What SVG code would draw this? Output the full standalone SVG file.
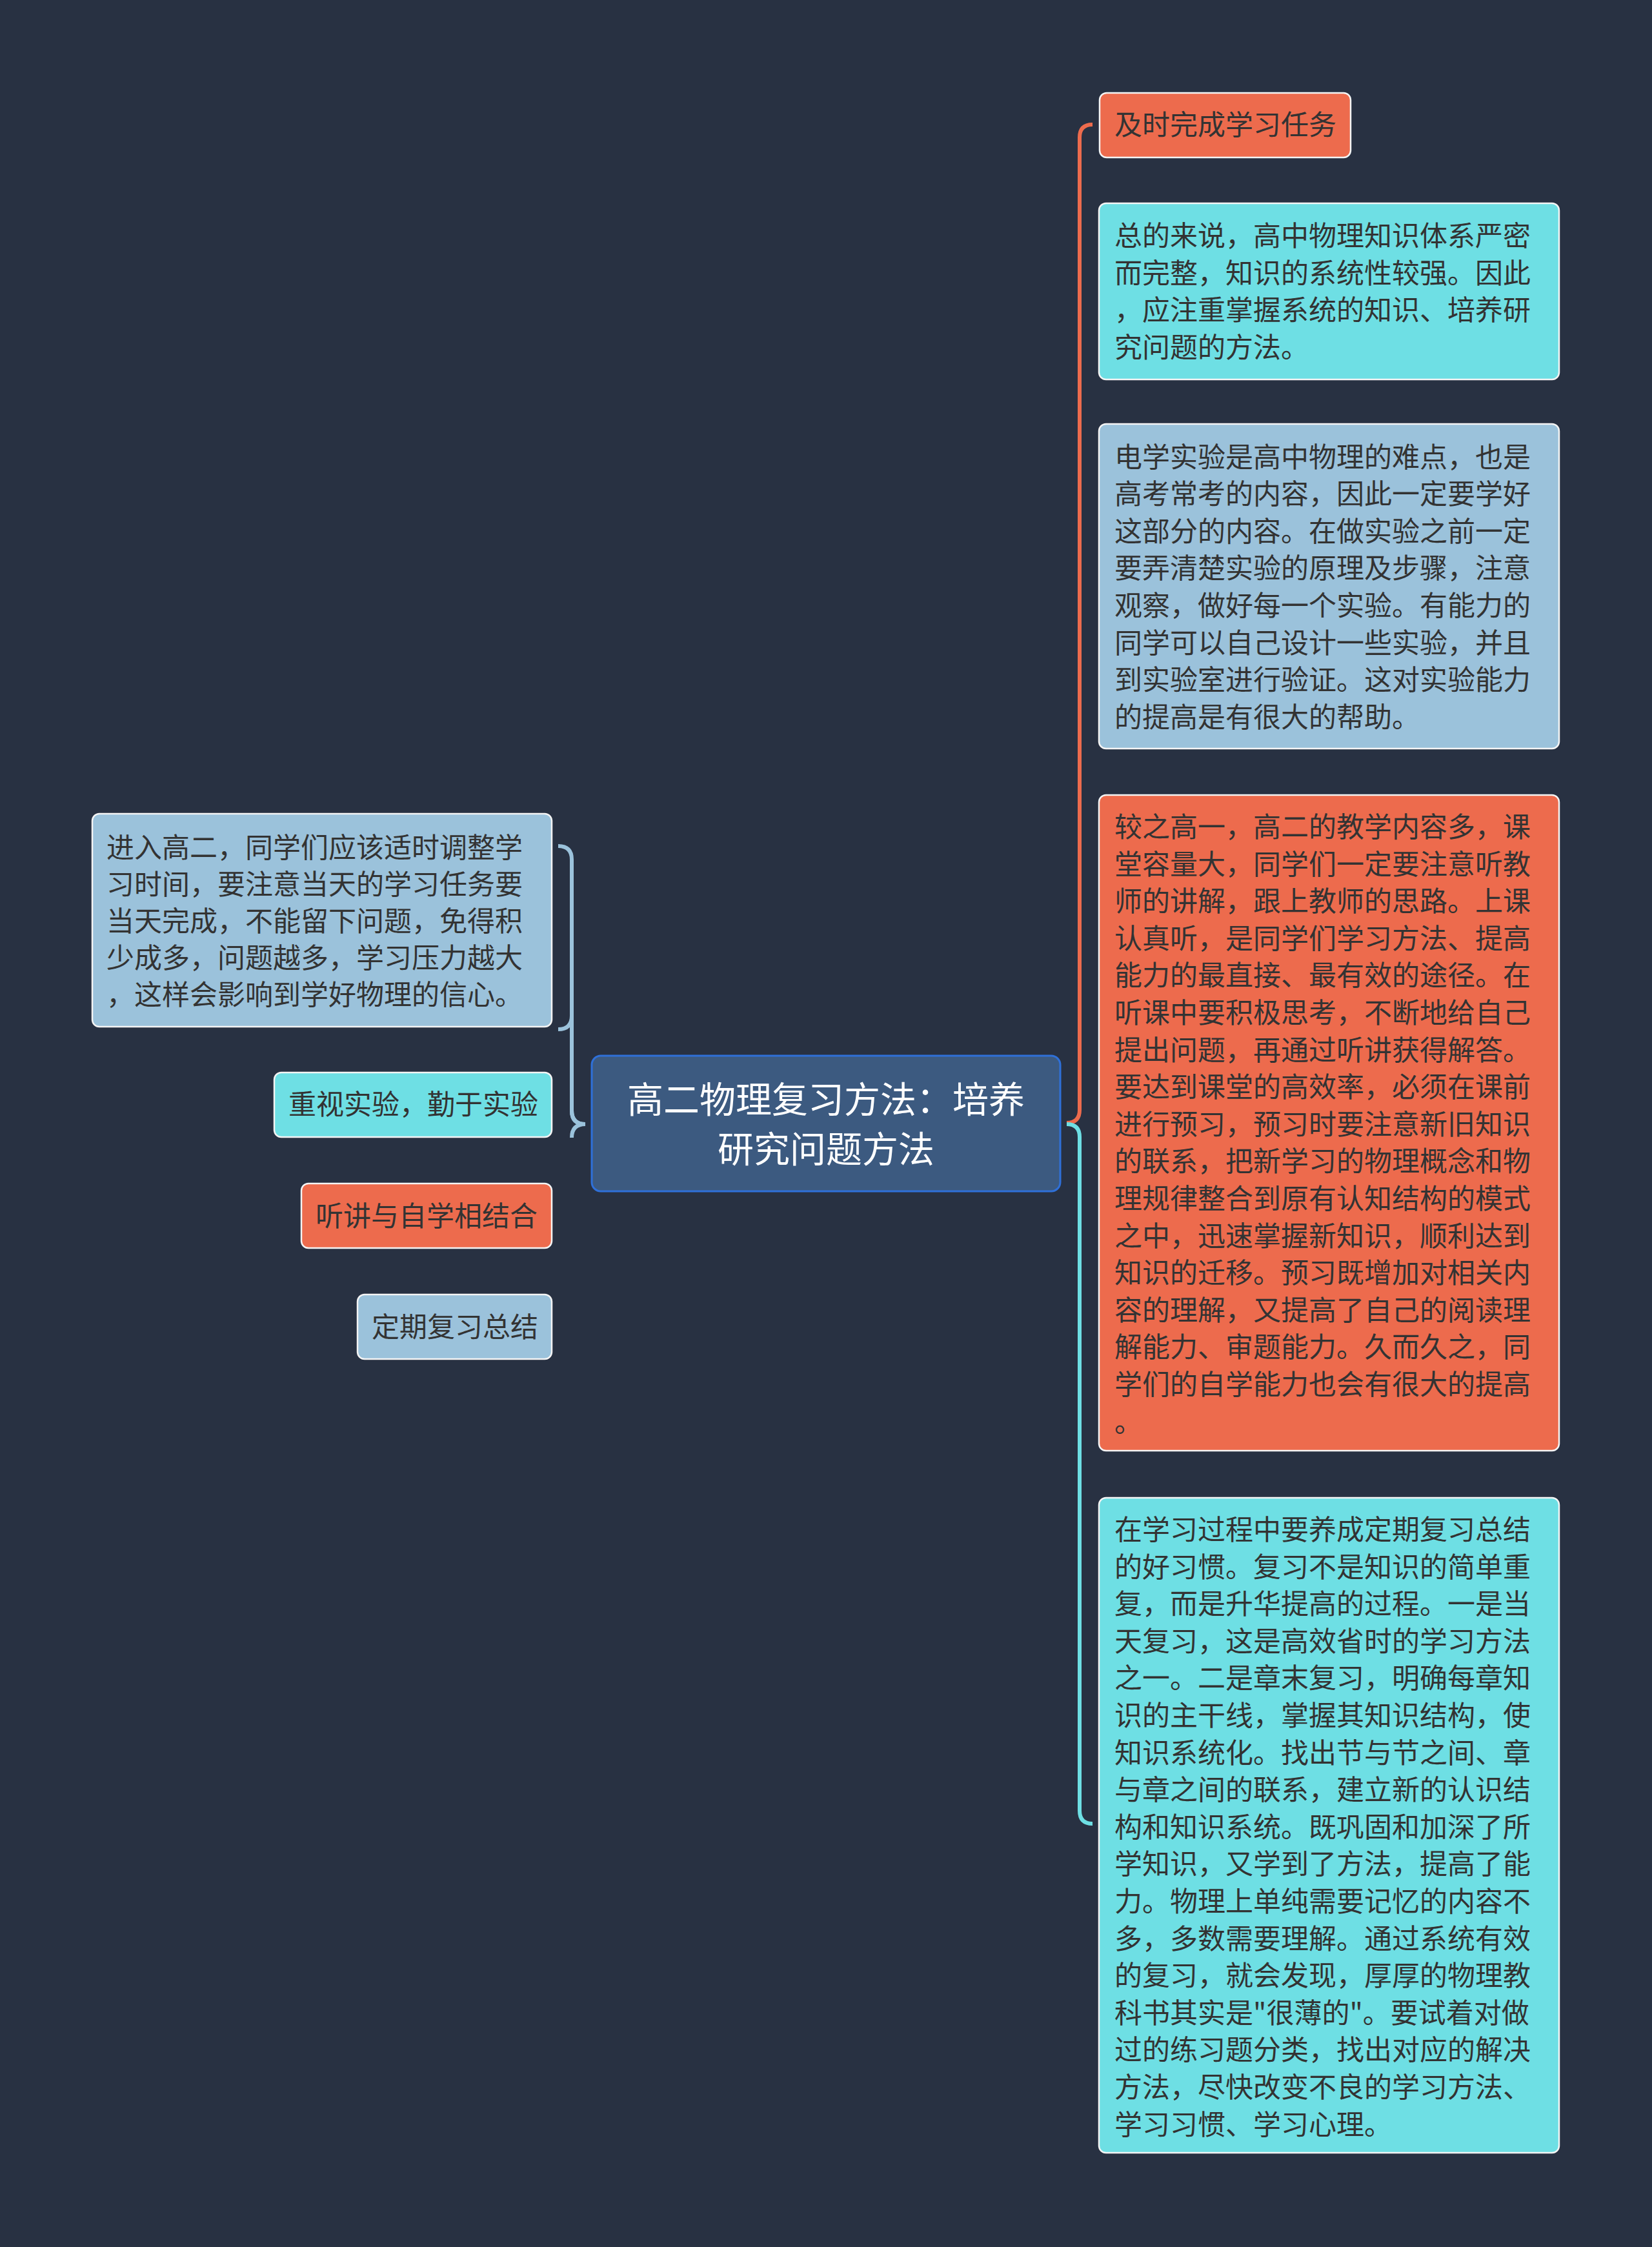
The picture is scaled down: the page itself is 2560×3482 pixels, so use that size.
<svg xmlns="http://www.w3.org/2000/svg" width="2560" height="3482" viewBox="0 0 2560 3482">
<style>
.bg{fill:#283142}
.box{stroke:#f4f4f4;stroke-width:2.5}
.or{fill:#ed6b4d}
.cy{fill:#6edfe4}
.lb{fill:#9bc2db}
.t{font-family:"Noto Sans CJK SC","Noto Sans",sans-serif;font-size:43px;fill:#333333}
.ct{font-family:"Noto Sans CJK SC","Noto Sans",sans-serif;font-size:56px;fill:#ffffff;text-anchor:middle}
.ln{fill:none;stroke-width:6;stroke-linecap:butt}
</style>
<rect class="bg" x="0" y="0" width="2560" height="3482"/>
<g id="connectors">
<path class="ln" stroke="#ed6b4d" d="M1653 1740 Q1673 1740 1673 1720 L1673 213 Q1673 193 1693 193"/>
<path class="ln" stroke="#6edfe4" d="M1653 1742 Q1673 1742 1673 1762 L1673 2806 Q1673 2826 1693 2826"/>
<path class="ln" stroke="#9bc2db" d="M907 1742 Q886 1742 886 1721 L886 1332 Q886 1311 865 1311"/>
<path class="ln" stroke="#9bc2db" d="M907 1742 Q886 1742 886 1721 L886 1574 Q886 1595 865 1595"/>
<path class="ln" stroke="#9bc2db" d="M907 1742 Q886 1742 886 1763"/>
</g>
<g id="root">
<rect x="917" y="1636" width="726" height="210" rx="14" fill="#3c5a80" stroke="#2f70d8" stroke-width="3"/>
<text class="ct" x="1280" y="1724">高二物理复习方法：培养<tspan x="1280" dy="77">研究问题方法</tspan></text>
</g>
<g id="n1">
<rect class="box or" x="1704" y="144" width="389" height="100" rx="11"/>
<text class="t" x="1727" y="209">及时完成学习任务</text>
</g>
<g id="n2">
<rect class="box cy" x="1703" y="315" width="713" height="273" rx="11"/>
<text class="t" x="1727" y="381">总的来说，高中物理知识体系严密<tspan x="1727" dy="57.6">而完整，知识的系统性较强。因此</tspan><tspan x="1727" dy="57.6">，应注重掌握系统的知识、培养研</tspan><tspan x="1727" dy="57.6">究问题的方法。</tspan></text>
</g>
<g id="n3">
<rect class="box lb" x="1703" y="657" width="713" height="503" rx="11"/>
<text class="t" x="1727" y="723.5">电学实验是高中物理的难点，也是<tspan x="1727" dy="57.6">高考常考的内容，因此一定要学好</tspan><tspan x="1727" dy="57.6">这部分的内容。在做实验之前一定</tspan><tspan x="1727" dy="57.6">要弄清楚实验的原理及步骤，注意</tspan><tspan x="1727" dy="57.6">观察，做好每一个实验。有能力的</tspan><tspan x="1727" dy="57.6">同学可以自己设计一些实验，并且</tspan><tspan x="1727" dy="57.6">到实验室进行验证。这对实验能力</tspan><tspan x="1727" dy="57.6">的提高是有很大的帮助。</tspan></text>
</g>
<g id="n4">
<rect class="box or" x="1703" y="1232" width="713" height="1016" rx="11"/>
<text class="t" x="1727" y="1297">较之高一，高二的教学内容多，课<tspan x="1727" dy="57.6">堂容量大，同学们一定要注意听教</tspan><tspan x="1727" dy="57.6">师的讲解，跟上教师的思路。上课</tspan><tspan x="1727" dy="57.6">认真听，是同学们学习方法、提高</tspan><tspan x="1727" dy="57.6">能力的最直接、最有效的途径。在</tspan><tspan x="1727" dy="57.6">听课中要积极思考，不断地给自己</tspan><tspan x="1727" dy="57.6">提出问题，再通过听讲获得解答。</tspan><tspan x="1727" dy="57.6">要达到课堂的高效率，必须在课前</tspan><tspan x="1727" dy="57.6">进行预习，预习时要注意新旧知识</tspan><tspan x="1727" dy="57.6">的联系，把新学习的物理概念和物</tspan><tspan x="1727" dy="57.6">理规律整合到原有认知结构的模式</tspan><tspan x="1727" dy="57.6">之中，迅速掌握新知识，顺利达到</tspan><tspan x="1727" dy="57.6">知识的迁移。预习既增加对相关内</tspan><tspan x="1727" dy="57.6">容的理解，又提高了自己的阅读理</tspan><tspan x="1727" dy="57.6">解能力、审题能力。久而久之，同</tspan><tspan x="1727" dy="57.6">学们的自学能力也会有很大的提高</tspan><tspan x="1727" dy="57.6">。</tspan></text>
</g>
<g id="n5">
<rect class="box cy" x="1703" y="2321" width="713" height="1015" rx="11"/>
<text class="t" x="1727" y="2386">在学习过程中要养成定期复习总结<tspan x="1727" dy="57.6">的好习惯。复习不是知识的简单重</tspan><tspan x="1727" dy="57.6">复，而是升华提高的过程。一是当</tspan><tspan x="1727" dy="57.6">天复习，这是高效省时的学习方法</tspan><tspan x="1727" dy="57.6">之一。二是章末复习，明确每章知</tspan><tspan x="1727" dy="57.6">识的主干线，掌握其知识结构，使</tspan><tspan x="1727" dy="57.6">知识系统化。找出节与节之间、章</tspan><tspan x="1727" dy="57.6">与章之间的联系，建立新的认识结</tspan><tspan x="1727" dy="57.6">构和知识系统。既巩固和加深了所</tspan><tspan x="1727" dy="57.6">学知识，又学到了方法，提高了能</tspan><tspan x="1727" dy="57.6">力。物理上单纯需要记忆的内容不</tspan><tspan x="1727" dy="57.6">多，多数需要理解。通过系统有效</tspan><tspan x="1727" dy="57.6">的复习，就会发现，厚厚的物理教</tspan><tspan x="1727" dy="57.6">科书其实是"很薄的"。要试着对做</tspan><tspan x="1727" dy="57.6">过的练习题分类，找出对应的解决</tspan><tspan x="1727" dy="57.6">方法，尽快改变不良的学习方法、</tspan><tspan x="1727" dy="57.6">学习习惯、学习心理。</tspan></text>
</g>
<g id="l1">
<rect class="box lb" x="143" y="1261" width="712" height="330" rx="11"/>
<text class="t" x="165" y="1329">进入高二，同学们应该适时调整学<tspan x="165" dy="57">习时间，要注意当天的学习任务要</tspan><tspan x="165" dy="57">当天完成，不能留下问题，免得积</tspan><tspan x="165" dy="57">少成多，问题越多，学习压力越大</tspan><tspan x="165" dy="57">，这样会影响到学好物理的信心。</tspan></text>
</g>
<g id="l2">
<rect class="box cy" x="425" y="1662" width="430" height="100" rx="11"/>
<text class="t" x="447" y="1727">重视实验，勤于实验</text>
</g>
<g id="l3">
<rect class="box or" x="467" y="1834" width="388" height="100" rx="11"/>
<text class="t" x="489" y="1900">听讲与自学相结合</text>
</g>
<g id="l4">
<rect class="box lb" x="554" y="2006" width="301" height="100" rx="11"/>
<text class="t" x="576" y="2072">定期复习总结</text>
</g>
</svg>
